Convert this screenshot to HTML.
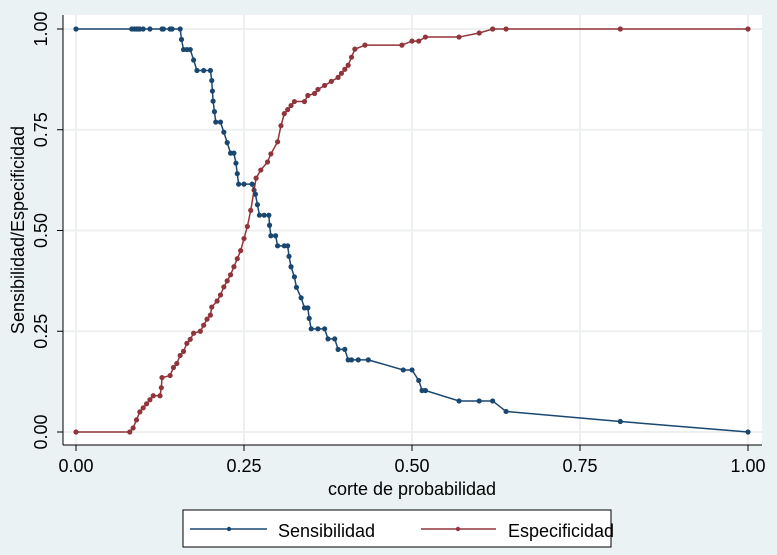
<!DOCTYPE html>
<html><head><meta charset="utf-8"><style>
body{margin:0;background:#eaf2f3;}
svg{display:block;font-family:"Liberation Sans",Arial,sans-serif;}
</style></head><body>
<svg id="chart" width="777" height="555" viewBox="0 0 777 555">
<rect x="0" y="0" width="777" height="555" fill="#eaf2f3"/>
<rect x="63" y="15" width="699" height="430" fill="#ffffff"/>
<g id="grid"></g>
<line x1="63" y1="15" x2="63" y2="445" stroke="#000" stroke-width="1"/>
<line x1="63" y1="445" x2="762" y2="445" stroke="#000" stroke-width="1"/>
<g id="axes"></g>
<g id="series"></g>
<text x="412" y="495" font-size="18" text-anchor="middle">corte de probabilidad</text>
<text transform="translate(24,230) rotate(-90)" font-size="18" text-anchor="middle">Sensibilidad/Especificidad</text>
<g>
<rect x="183" y="510" width="428" height="37" fill="#fff" stroke="#000" stroke-width="1"/>
<g>
<line x1="190" y1="529" x2="267" y2="529" stroke="#1a476f" stroke-width="1.5"/>
<circle cx="229" cy="529" r="2.2" fill="#1a476f"/>
<text x="278" y="537" font-size="18">Sensibilidad</text></g>
<g>
<line x1="421" y1="529" x2="496" y2="529" stroke="#90353b" stroke-width="1.5"/>
<circle cx="458" cy="529" r="2.2" fill="#90353b"/>
<text x="508" y="537" font-size="18">Especificidad</text></g>
</g>
</svg>
<script>
const xTicks=[0,0.25,0.5,0.75,1];
const xTickLabels=["0.00","0.25","0.50","0.75","1.00"];
const yTicks=[0,0.25,0.5,0.75,1];
const yTickLabels=["0.00","0.25","0.50","0.75","1.00"];
const sensCut=[0,0.083,0.087,0.09,0.093,0.095,0.1,0.11,0.128,0.13,0.14,0.143,0.155,0.157,0.16,0.165,0.17,0.175,0.18,0.19,0.2,0.202,0.203,0.204,0.206,0.208,0.215,0.22,0.225,0.23,0.235,0.238,0.24,0.242,0.25,0.262,0.267,0.27,0.273,0.28,0.287,0.288,0.29,0.297,0.3,0.31,0.315,0.317,0.32,0.325,0.328,0.335,0.34,0.345,0.347,0.35,0.36,0.37,0.375,0.385,0.39,0.4,0.405,0.41,0.42,0.435,0.487,0.5,0.51,0.515,0.52,0.57,0.6,0.62,0.64,0.81,1];
const sensVal=[1,1,1,1,1,1,1,1,1,1,1,1,1,0.974,0.949,0.949,0.949,0.923,0.897,0.897,0.897,0.872,0.846,0.821,0.795,0.769,0.769,0.744,0.718,0.692,0.692,0.667,0.641,0.615,0.615,0.615,0.59,0.564,0.538,0.538,0.538,0.513,0.487,0.487,0.462,0.462,0.462,0.436,0.41,0.385,0.359,0.333,0.308,0.308,0.282,0.256,0.256,0.256,0.231,0.231,0.205,0.205,0.179,0.179,0.179,0.179,0.154,0.154,0.128,0.103,0.103,0.077,0.077,0.077,0.051,0.026,0];
const specCut=[0,0.08,0.085,0.09,0.095,0.1,0.105,0.11,0.115,0.125,0.127,0.128,0.14,0.145,0.15,0.155,0.16,0.165,0.17,0.175,0.185,0.19,0.195,0.2,0.202,0.21,0.215,0.22,0.225,0.23,0.235,0.24,0.245,0.25,0.255,0.26,0.265,0.268,0.275,0.285,0.29,0.3,0.305,0.31,0.315,0.32,0.325,0.34,0.345,0.355,0.36,0.37,0.38,0.39,0.395,0.4,0.405,0.41,0.415,0.43,0.485,0.5,0.51,0.52,0.57,0.6,0.62,0.64,0.81,1];
const specVal=[0,0,0.01,0.03,0.05,0.06,0.07,0.08,0.09,0.09,0.11,0.135,0.14,0.16,0.17,0.19,0.2,0.22,0.23,0.245,0.25,0.265,0.28,0.29,0.31,0.325,0.34,0.36,0.375,0.39,0.41,0.43,0.45,0.48,0.51,0.55,0.6,0.63,0.65,0.67,0.69,0.72,0.76,0.79,0.8,0.81,0.82,0.82,0.835,0.84,0.85,0.86,0.87,0.88,0.89,0.9,0.91,0.93,0.95,0.96,0.96,0.97,0.97,0.98,0.98,0.99,1,1,1,1];
const NS="http://www.w3.org/2000/svg";
const X=v=>76+v*672, Y=v=>432-v*403;
function mk(tag,attrs,parent){const e=document.createElementNS(NS,tag);for(const k in attrs)e.setAttribute(k,attrs[k]);parent.appendChild(e);return e;}
const grid=document.getElementById('grid'),axes=document.getElementById('axes'),series=document.getElementById('series');
xTicks.forEach((t,i)=>{
 const g=mk('line',{x1:X(t),x2:X(t),y1:15,y2:445,stroke:'#eef0f0','stroke-width':2},grid);
 
 
 const tk=mk('line',{x1:X(t),x2:X(t),y1:445,y2:451,stroke:'#000'},axes);
 
 
 const tx=mk('text',{x:X(t),y:472,'font-size':18,'text-anchor':'middle'},axes);
 tx.textContent=xTickLabels[i];
 
 
});
yTicks.forEach((t,i)=>{
 const g=mk('line',{x1:63,x2:762,y1:Y(t),y2:Y(t),stroke:'#eef0f0','stroke-width':2},grid);
 
 
 const tk=mk('line',{x1:57,x2:63,y1:Y(t),y2:Y(t),stroke:'#000'},axes);
 
 
 const tx=mk('text',{transform:`translate(47,${Y(t)}) rotate(-90)`,'font-size':18,'text-anchor':'middle'},axes);
 tx.textContent=yTickLabels[i];
 
 
});
function draw(xs,ys,color,name){
 const pts=xs.map((x,i)=>X(x)+','+Y(ys[i])).join(' ');
 const pl=mk('polyline',{points:pts,fill:'none',stroke:color,'stroke-width':1.5},series);
 
 
 xs.forEach((x,i)=>{
  const c=mk('circle',{cx:X(x),cy:Y(ys[i]),r:2.6,fill:color},series);
  
  
 });
}
draw(specCut,specVal,'#90353b','especificidad');
draw(sensCut,sensVal,'#1a476f','sensibilidad');
</script>
</body></html>
